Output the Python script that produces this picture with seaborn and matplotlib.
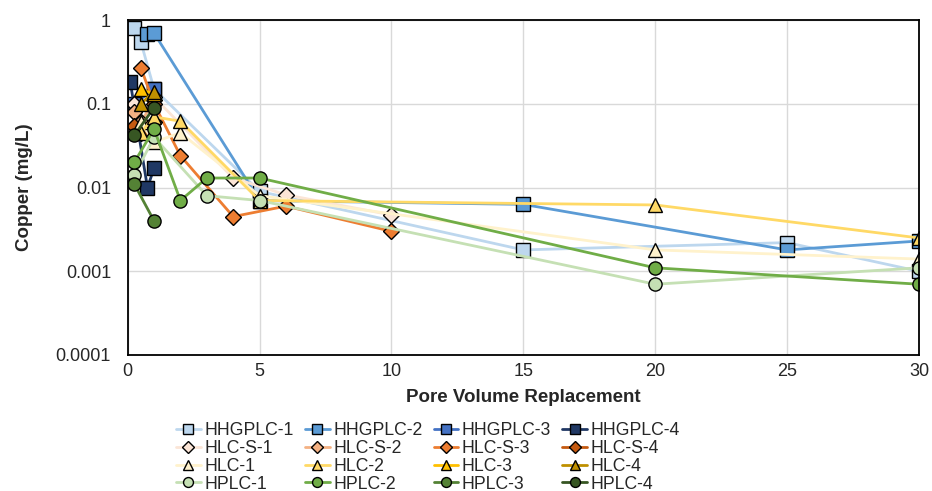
import numpy as np
import pandas as pd
import matplotlib
matplotlib.use("Agg")
import matplotlib.pyplot as plt
import seaborn as sns

# pore volume replacement (x) and copper (mg/L) for each column test
hhgplc1_x = [0.25, 0.5, 1, 5, 15, 25, 30]
hhgplc1_y = [0.8, 0.55, 0.15, 0.009, 0.0018, 0.0022, 0.001]
hhgplc2_x = [0.75, 1, 5, 15, 25, 30]
hhgplc2_y = [0.68, 0.7, 0.007, 0.0063, 0.0018, 0.0023]
hhgplc3_x = [0.25, 1]
hhgplc3_y = [0.1, 0.15]
hhgplc4_x = [0.1, 0.75, 1]
hhgplc4_y = [0.18, 0.01, 0.017]

hlcs1_x = [0.25, 1, 4, 6, 10]
hlcs1_y = [0.1, 0.12, 0.013, 0.0082, 0.0047]
hlcs2_x = [0.25, 0.5, 1]
hlcs2_y = [0.08, 0.06, 0.11]
hlcs3_x = [0.5, 1, 2, 4, 6, 10]
hlcs3_y = [0.27, 0.1, 0.024, 0.0045, 0.006, 0.003]
hlcs4_x = [0.25, 0.5, 1]
hlcs4_y = [0.055, 0.045, 0.06]

hlc1_x = [0.5, 1, 2, 5, 20, 30]
hlc1_y = [0.06, 0.035, 0.045, 0.008, 0.0018, 0.0014]
hlc2_x = [0.5, 1, 2, 5, 20, 30]
hlc2_y = [0.045, 0.07, 0.062, 0.007, 0.0062, 0.0025]
hlc3_x = [0.5, 1]
hlc3_y = [0.15, 0.13]
hlc4_x = [0.5, 1]
hlc4_y = [0.1, 0.14]

hplc1_x = [0.25, 1, 3, 5, 20, 30]
hplc1_y = [0.014, 0.04, 0.008, 0.007, 0.0007, 0.0011]
hplc2_x = [0.25, 1, 2, 3, 5, 20, 30]
hplc2_y = [0.02, 0.05, 0.007, 0.013, 0.013, 0.0011, 0.0007]
hplc3_x = [0.25, 1]
hplc3_y = [0.011, 0.004]
hplc4_x = [0.25, 1]
hplc4_y = [0.042, 0.09]

series = [
    ("HHGPLC-1", hhgplc1_x, hhgplc1_y, "#BDD7EE", "s"),
    ("HHGPLC-2", hhgplc2_x, hhgplc2_y, "#5B9BD5", "s"),
    ("HHGPLC-3", hhgplc3_x, hhgplc3_y, "#4472C4", "s"),
    ("HHGPLC-4", hhgplc4_x, hhgplc4_y, "#203864", "s"),
    ("HLC-S-1", hlcs1_x, hlcs1_y, "#FBE5D6", "D"),
    ("HLC-S-2", hlcs2_x, hlcs2_y, "#F4B183", "D"),
    ("HLC-S-3", hlcs3_x, hlcs3_y, "#ED7D31", "D"),
    ("HLC-S-4", hlcs4_x, hlcs4_y, "#C55A11", "D"),
    ("HLC-1", hlc1_x, hlc1_y, "#FFF2CC", "^"),
    ("HLC-2", hlc2_x, hlc2_y, "#FFD966", "^"),
    ("HLC-3", hlc3_x, hlc3_y, "#FFC000", "^"),
    ("HLC-4", hlc4_x, hlc4_y, "#BF9000", "^"),
    ("HPLC-1", hplc1_x, hplc1_y, "#C5E0B4", "o"),
    ("HPLC-2", hplc2_x, hplc2_y, "#70AD47", "o"),
    ("HPLC-3", hplc3_x, hplc3_y, "#548235", "o"),
    ("HPLC-4", hplc4_x, hplc4_y, "#375623", "o"),
]

sns.set_style("whitegrid")
plt.rcParams["font.family"] = ["Liberation Sans", "DejaVu Sans"]

fig = plt.figure(figsize=(9.32, 4.91), dpi=100)
ax = fig.add_axes([0.137, 0.277, 0.849, 0.682])

msizes = {"s": 9.5, "D": 8.5, "^": 10, "o": 9.5}
for name, xs, ys, col, mk in series:
    sns.lineplot(x=xs, y=ys, ax=ax, color=col, marker=mk, markersize=msizes[mk],
                 markeredgecolor="black", markeredgewidth=1, linewidth=2,
                 label=name, sort=False, estimator=None)

ax.set_yscale("log")
ax.set_ylim(0.0001, 1)
ax.set_xlim(0, 30)
ax.set_xticks([0, 5, 10, 15, 20, 25, 30])
ax.set_yticks([0.0001, 0.001, 0.01, 0.1, 1])
ax.set_yticklabels(["0.0001", "0.001", "0.01", "0.1", "1"])
ax.minorticks_off()
ax.grid(True, color="#D9D9D9", linewidth=1)
for s in ax.spines.values():
    s.set_color("black")
    s.set_linewidth(1.3)
ax.tick_params(labelsize=13, length=0)
ax.tick_params(axis="y", pad=12)
ax.tick_params(axis="x", pad=6)
ax.set_xlabel("Pore Volume Replacement", fontsize=13.5, fontweight="bold", labelpad=6.5)
ax.set_ylabel("Copper (mg/L)", fontsize=13.5, fontweight="bold", labelpad=16.5)

handles, labels = ax.get_legend_handles_labels()
# legend fills column-wise, reorder so rows read HHGPLC, HLC-S, HLC, HPLC
order = [r * 4 + c for c in range(4) for r in range(4)]
ax.legend([handles[i] for i in order], [labels[i] for i in order],
          ncol=4, loc="upper left", bbox_to_anchor=(176 / 932, 1 - 422 / 491),
          bbox_transform=fig.transFigure, frameon=False, fontsize=12.7,
          handlelength=1.4, handletextpad=0.2, columnspacing=0.64,
          labelspacing=0.05, borderaxespad=0, borderpad=0, markerscale=0.75)

fig.savefig("out.png", dpi=100)
